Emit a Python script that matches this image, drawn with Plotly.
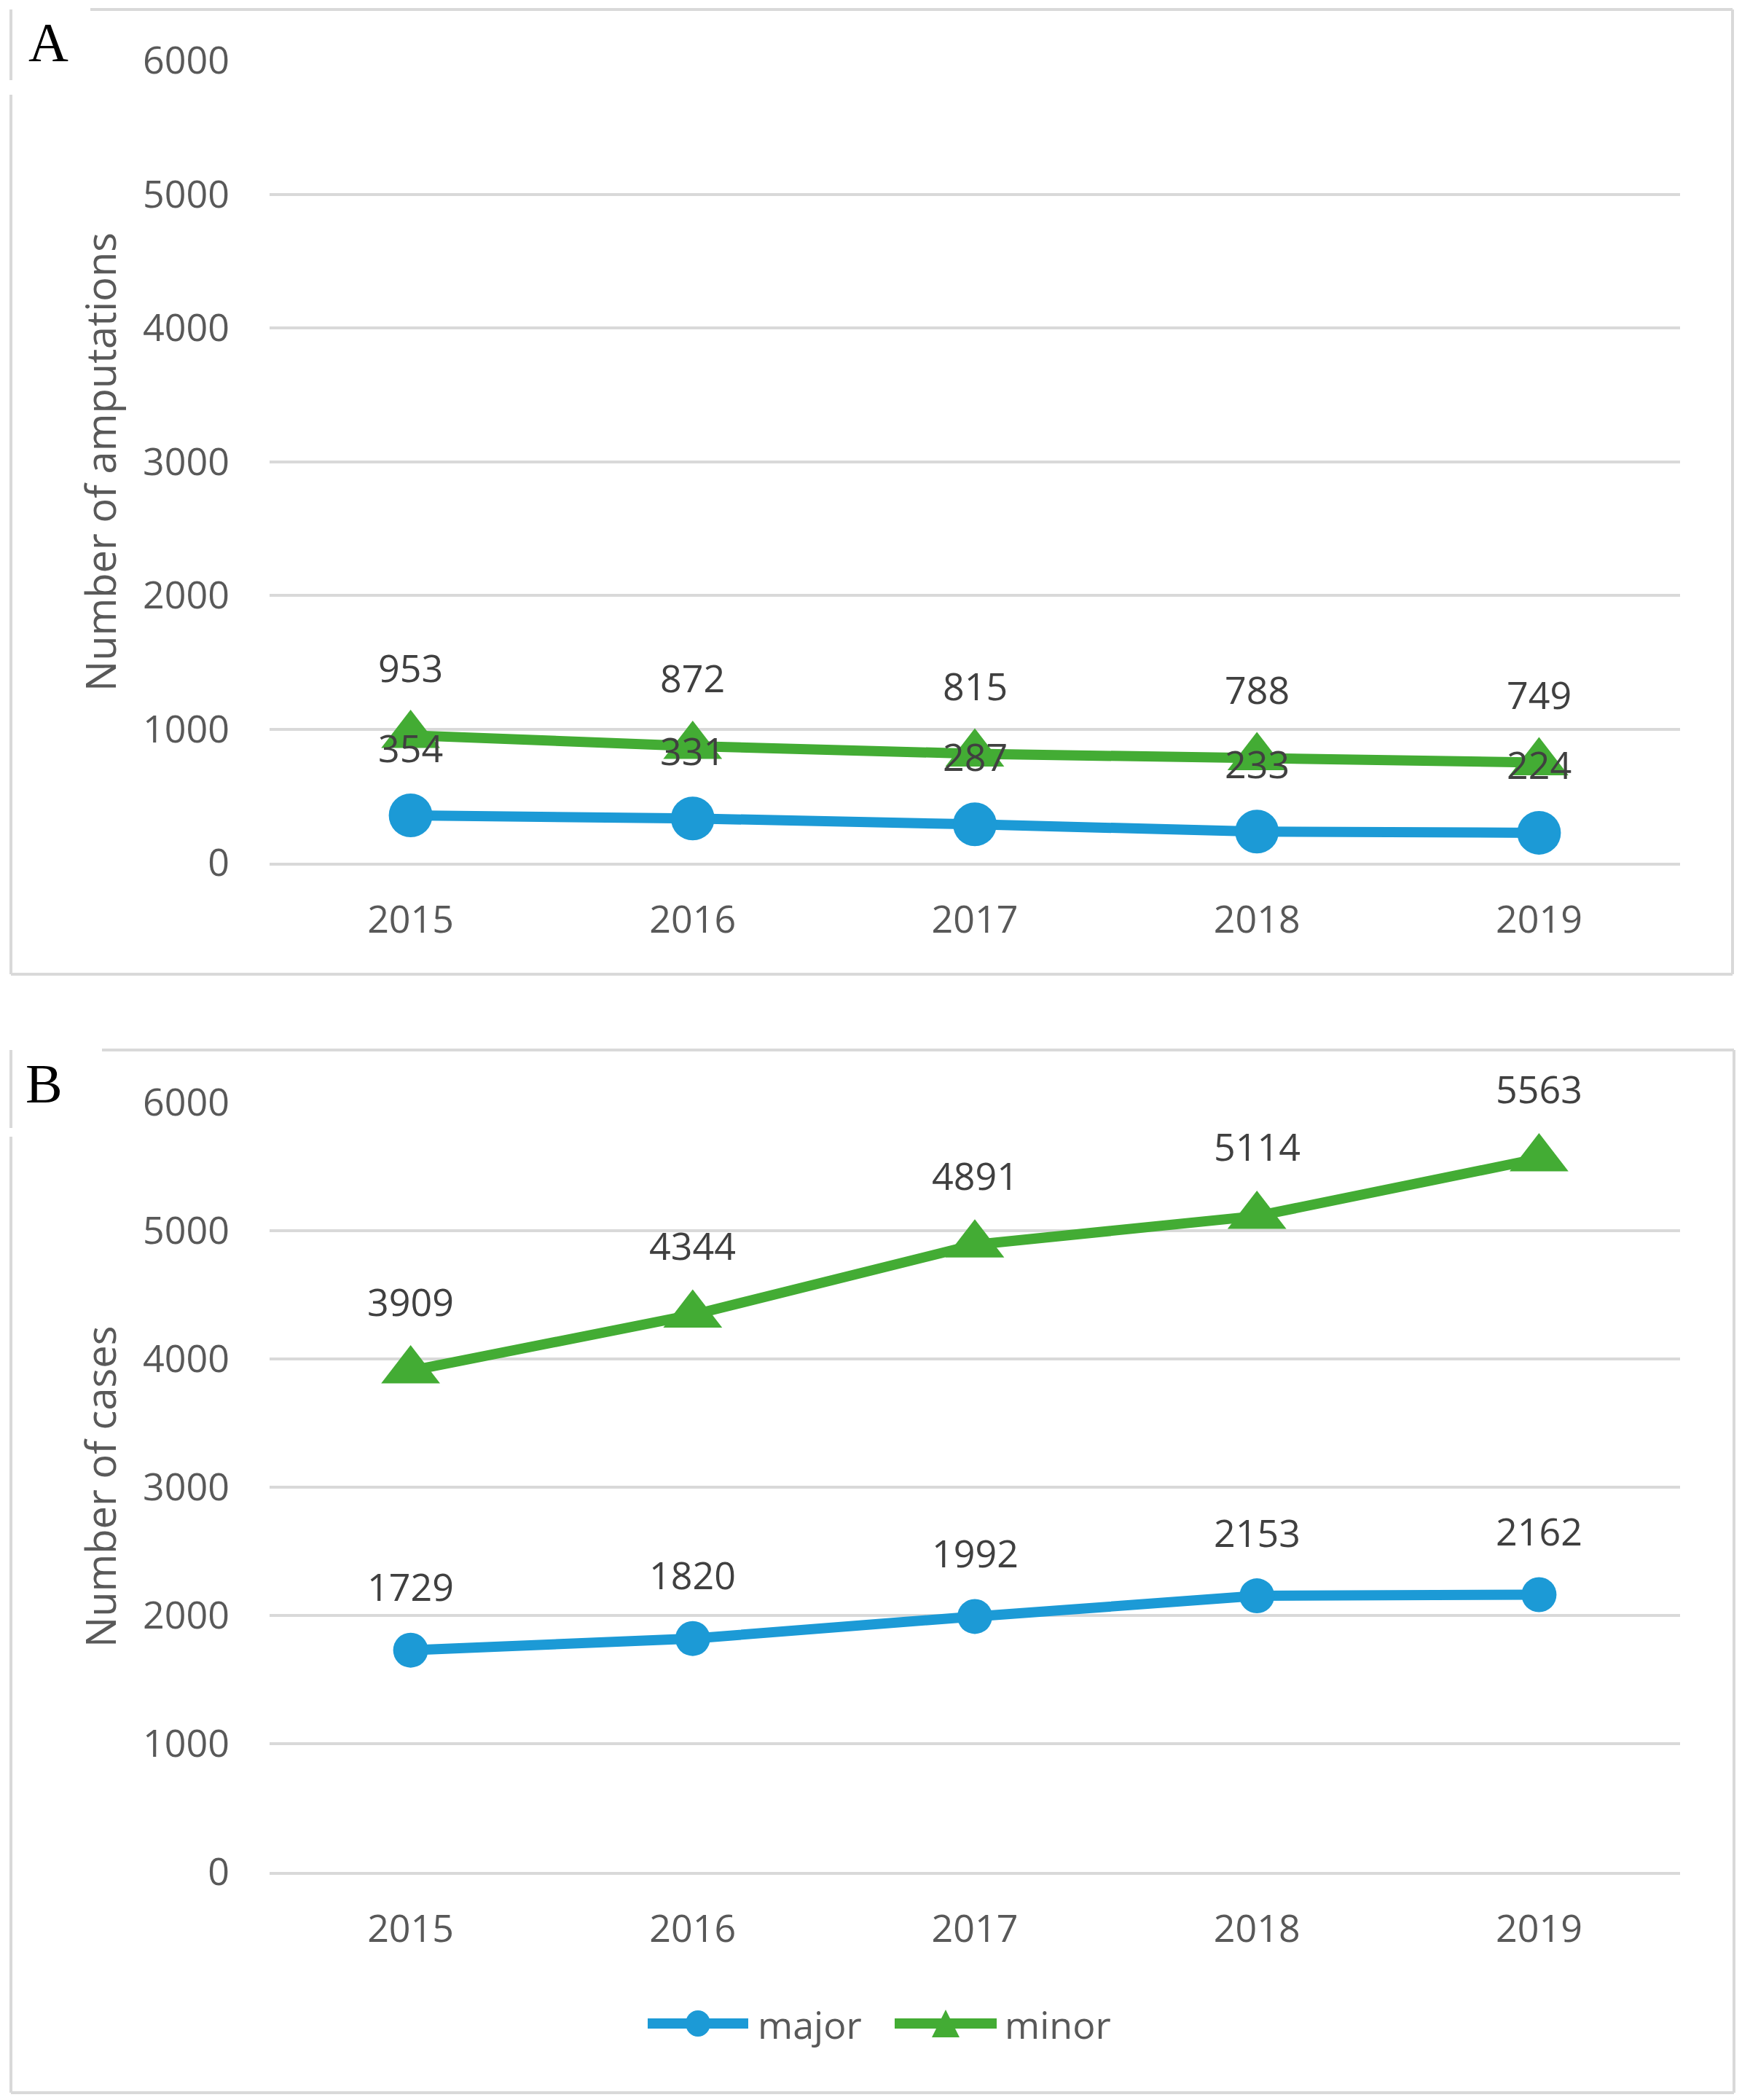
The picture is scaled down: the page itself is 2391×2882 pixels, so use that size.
import plotly.graph_objects as go

# ---------------- data ----------------
years = ["2015", "2016", "2017", "2018", "2019"]
amput_major = [354, 331, 287, 233, 224]
amput_minor = [953, 872, 815, 788, 749]
cases_major = [1729, 1820, 1992, 2153, 2162]
cases_minor = [3909, 4344, 4891, 5114, 5563]
y_ticks = [0, 1000, 2000, 3000, 4000, 5000, 6000]
series_names = ["major", "minor"]
titles = ["Number of amputations", "Number of cases"]
panel_letters = ["A", "B"]

# ---------------- styling ----------------
W, H = 2391, 2882
BLUE = "#1C9AD6"
GREEN = "#43AC34"
GRID = "#D9D9D9"
TICK = "#595959"
LABEL = "#404040"
FONT = "Open Sans"
FS = 52


def px(x):
    return x / W


def py(y):
    return 1 - y / H


fig = go.Figure()

panels = [
    dict(major=amput_major, minor=amput_minor, xa="x", ya="y", circ=60, tri=70, shift_maj=94, shift_min=94),
    dict(major=cases_major, minor=cases_minor, xa="x2", ya="y2", circ=48, tri=70, shift_maj=88, shift_min=96),
]

for p in panels:
    fig.add_trace(go.Scatter(
        x=years, y=p["major"], mode="lines+markers", name=series_names[0],
        xaxis=p["xa"], yaxis=p["ya"], showlegend=False, cliponaxis=False,
        line=dict(color=BLUE, width=14),
        marker=dict(symbol="circle", size=p["circ"], color=BLUE),
    ))
    fig.add_trace(go.Scatter(
        x=years, y=p["minor"], mode="lines+markers", name=series_names[1],
        xaxis=p["xa"], yaxis=p["ya"], showlegend=False, cliponaxis=False,
        line=dict(color=GREEN, width=14),
        marker=dict(symbol="triangle-up", size=p["tri"], color=GREEN),
    ))

annotations = []
for p in panels:
    for key, shift in (("minor", p["shift_min"]), ("major", p["shift_maj"])):
        for i, yv in enumerate(p[key]):
            annotations.append(dict(
                x=i, y=yv, xref=p["xa"], yref=p["ya"], text=str(yv),
                showarrow=False, yshift=shift, xanchor="center", yanchor="middle",
                font=dict(family=FONT, size=FS, color=LABEL),
            ))

# axis titles
for txt, yc in zip(titles, [634, 2041]):
    annotations.append(dict(
        x=px(137), y=py(yc), xref="paper", yref="paper", text=txt,
        textangle=-90, showarrow=False, xanchor="center", yanchor="middle",
        font=dict(family=FONT, size=56, color=TICK),
    ))

# panel letters
for letter, (lx, ly) in zip(panel_letters, [(66, 58), (60, 1487)]):
    annotations.append(dict(
        x=px(lx), y=py(ly), xref="paper", yref="paper", text=letter,
        showarrow=False, xanchor="center", yanchor="middle",
        font=dict(family="Liberation Serif", size=76, color="#000000"),
    ))

# legend texts
for name, lx in zip(series_names, [1038, 1377]):
    annotations.append(dict(
        x=px(lx), y=py(2777), xref="paper", yref="paper", text=name,
        showarrow=False, xanchor="left", yanchor="middle",
        font=dict(family=FONT, size=FS, color=TICK),
    ))

shapes = []


def seg(x0, y0, x1, y1, color=GRID, width=4):
    shapes.append(dict(type="line", xref="paper", yref="paper",
                       x0=px(x0), y0=py(y0), x1=px(x1), y1=py(y1),
                       line=dict(color=color, width=width), layer="below"))


# panel A frame
seg(124, 13, 2378, 13)
seg(2378, 13, 2378, 1337)
seg(15, 1337, 2378, 1337)
seg(15, 13, 15, 110)
seg(15, 130, 15, 1337)
# panel B frame
seg(140, 1441, 2380, 1441)
seg(2380, 1441, 2380, 2872)
seg(15, 2872, 2380, 2872)
seg(15, 1441, 15, 1548)
seg(15, 1560, 15, 2872)

# legend glyphs
ly = 2777
shapes.append(dict(type="line", xref="paper", yref="paper", x0=px(889), y0=py(ly), x1=px(1027), y1=py(ly),
                   line=dict(color=BLUE, width=14)))
shapes.append(dict(type="circle", xref="paper", yref="paper", x0=px(941), y0=py(ly - 18), x1=px(975), y1=py(ly + 18),
                   fillcolor=BLUE, line=dict(color=BLUE, width=0)))
shapes.append(dict(type="line", xref="paper", yref="paper", x0=px(1228), y0=py(ly), x1=px(1368), y1=py(ly),
                   line=dict(color=GREEN, width=14)))
tri_path = "M {:.5f},{:.5f} L {:.5f},{:.5f} L {:.5f},{:.5f} Z".format(
    px(1298), py(ly - 19), px(1279), py(ly + 19), px(1317), py(ly + 19))
shapes.append(dict(type="path", xref="paper", yref="paper", path=tri_path,
                   fillcolor=GREEN, line=dict(color=GREEN, width=0)))

xdom = [px(370), px(2306)]
common_x = dict(
    type="category", categoryarray=years, categoryorder="array",
    range=[-0.5, 4.5], domain=xdom, showgrid=False, zeroline=False, automargin=False,
    showline=True, linecolor=GRID, linewidth=4, ticks="", ticklabelstandoff=30,
    tickfont=dict(family=FONT, size=FS, color=TICK), fixedrange=True,
)
common_y = dict(
    range=[0, 6000], tickvals=y_ticks, showgrid=True, gridcolor=GRID, gridwidth=4,
    zeroline=False, showline=False, ticks="", ticklabelstandoff=54, automargin=False,
    tickfont=dict(family=FONT, size=FS, color=TICK), fixedrange=True,
)

fig.update_layout(
    template=None,
    title=dict(text=""),
    width=W, height=H, autosize=False,
    margin=dict(l=0, r=0, t=0, b=0, pad=0, autoexpand=False),
    paper_bgcolor="white", plot_bgcolor="white",
    showlegend=False,
    xaxis=dict(common_x, anchor="y"),
    yaxis=dict(common_y, domain=[py(1184), py(83)], anchor="x"),
    xaxis2=dict(common_x, anchor="y2"),
    yaxis2=dict(common_y, domain=[py(2569), py(1513)], anchor="x2"),
    annotations=annotations,
    shapes=shapes,
)

post = ("document.documentElement.style.margin='0';document.documentElement.style.padding='0';"
        "document.body.style.margin='0';document.body.style.padding='0';"
        "document.body.style.overflow='hidden';window.scrollTo(0,0);")
fig.write_html("out.html", config=dict(displayModeBar=False), post_script=post)
